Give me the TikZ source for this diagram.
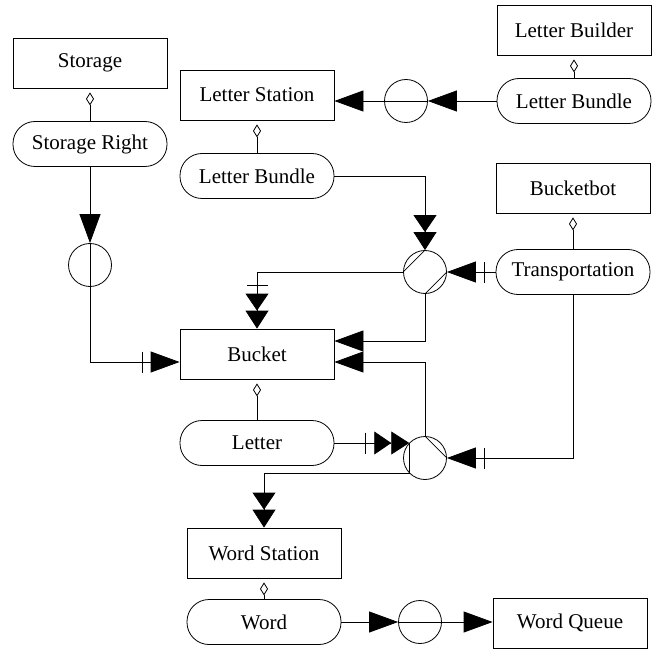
\documentclass[tikz,border=0pt]{standalone}
\usepackage{fontspec}
\setmainfont{Liberation Serif}
\usetikzlibrary{arrows.meta,calc}

\tikzset{
  objbox/.style={draw, rectangle, minimum width=154pt, minimum height=50pt, inner sep=0pt},
  pill/.style={draw, rectangle, rounded corners=22pt, minimum width=154pt, minimum height=45pt, inner sep=0pt},
  proc/.style={draw, circle, minimum size=43pt, inner sep=0pt},
  flow/.style={-{Triangle[length=29pt,width=21pt]}},
  dblflow/.style={-{Triangle[length=17pt,width=23pt,sep=0pt]Triangle[length=18pt,width=23pt,sep=0pt]}},
  tickflow/.style={-{Bar[width=21pt,sep=8pt]Triangle[length=29pt,width=21pt]}},
  tickdbl/.style={-{Bar[width=21pt,sep=8pt]Triangle[length=17pt,width=23pt,sep=0pt]Triangle[length=18pt,width=23pt,sep=0pt]}},
  partof/.style={{Diamond[open,length=13pt,width=8pt]}-, shorten <=4pt}
}

\begin{document}
\begin{tikzpicture}[x=1pt, y=-1pt, line width=0.8pt, font=\fontsize{21}{24}\selectfont]
  \useasboundingbox (0,0) rectangle (658,652);

  \node[objbox] (storage) at (90,63) {Storage};
  \node[pill] (storR) at (90,144) {Storage Right};
  \node[proc] (circA) at (90,265) {};

  \node[objbox] (lstation) at (257,95) {Letter Station};
  \node[pill] (lbundleL) at (257,176) {Letter Bundle};

  \node[objbox] (lbuilder) at (574,30) {Letter Builder};
  \node[pill] (lbundleR) at (574,101) {Letter Bundle};
  \node[proc] (circB) at (406,101) {};

  \node[objbox] (bucketbot) at (573,188) {Bucketbot};
  \node[pill] (transp) at (573,272) {Transportation};
  \node[proc] (proc1) at (425,272) {};

  \node[objbox] (bucket) at (257,354) {Bucket};
  \node[pill] (letter) at (257,443) {Letter};
  \node[proc] (proc2) at (425,458) {};

  \node[objbox] (wstation) at (264,553) {Word Station};
  \node[pill] (word) at (264,622) {Word};
  \node[proc] (circC) at (420,622) {};
  \node[objbox] (wqueue) at (570,623) {Word Queue};

  % parts
  \draw[partof] (storage.south) -- (storR.north);
  \draw[partof] (lstation.south) -- (lbundleL.north);
  \draw[partof] (lbuilder.south) -- (lbundleR.north);
  \draw[partof] (bucketbot.south) -- (transp.north);
  \draw[partof] (bucket.south) -- (letter.north);
  \draw[partof] (wstation.south) -- (word.north);

  % process marks
  \draw (proc1.west) -- (proc1.north);
  \draw (proc1.south) -- (proc1.east);
  \draw (proc2.north) -- (proc2.east);

  % links
  \draw[flow] (storR.south) -- (circA.north);
  \draw[tickflow] (circA.north) |- ($(bucket.west)+(0,8)$);

  \draw[flow] (lbundleR.west) -- (circB.east);
  \draw[flow] (circB.east) -- (circB.east -| lstation.east);

  \draw[dblflow] (lbundleL.east) -| (proc1.north);
  \draw[tickflow] (transp.west) -- (proc1.east);
  \draw[tickdbl] (proc1.west) -| (bucket.north);
  \draw[flow] (proc1.south) |- ($(bucket.east)+(0,-13)$);

  \draw[flow] (proc2.north) |- ($(bucket.east)+(0,8)$);
  \draw[tickdbl] (letter.east) -- (letter.east -| proc2.136);
  \draw[tickflow] (transp.south) |- (proc2.east);
  \draw[dblflow] (proc2.136) -- (proc2.224) -| (wstation.north);

  \draw[flow] (word.east) -- (circC.west);
  \draw[flow] (circC.west) -- (circC.west -| wqueue.west);
\end{tikzpicture}
\end{document}
